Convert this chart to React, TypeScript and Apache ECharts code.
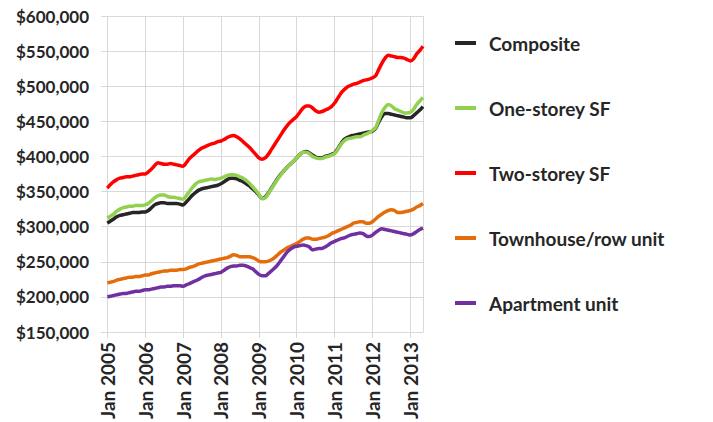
import React, { useEffect, useRef } from "react";
import * as echarts from "echarts";

// Monthly values in thousands of dollars, Jan 2005 .. May 2013
const composite = [
  305, 308, 311, 314, 316, 317, 318, 319, 320, 320, 320, 321,
  321, 323, 327, 331, 333, 334, 334, 333, 333, 333, 333, 332,
  331, 335, 340, 345, 349, 352, 354, 355, 356, 357, 358, 359,
  361, 364, 367, 369, 369, 368, 366, 364, 361, 358, 354, 350,
  345, 340, 342, 348, 355, 362, 369, 375, 380, 385, 389, 393,
  398, 403, 406, 407, 405, 402, 399, 398, 398, 400, 401, 403,
  405, 411, 418, 424, 427, 429, 430, 431, 432, 433, 434, 435,
  436, 440, 449, 457, 461, 461, 460, 459, 458, 457, 456, 455,
  455, 458, 462, 466, 471,
];
const oneStorey = [
  312, 315, 318, 322, 325, 327, 328, 329, 329, 330, 330, 330,
  331, 333, 337, 341, 344, 345, 345, 343, 342, 342, 341, 340,
  339, 344, 350, 356, 361, 364, 365, 366, 367, 368, 367, 368,
  369, 371, 373, 374, 374, 373, 371, 369, 366, 362, 357, 352,
  346, 340, 341, 347, 354, 361, 368, 374, 380, 385, 389, 393,
  398, 403, 406, 406, 404, 400, 398, 397, 397, 399, 400, 402,
  404, 410, 417, 422, 425, 426, 427, 428, 428, 430, 432, 434,
  437, 441, 452, 463, 470, 474, 472, 468, 466, 464, 462, 462,
  463, 467, 474, 479, 484,
];
const twoStorey = [
  355, 360, 364, 367, 369, 370, 371, 371, 372, 373, 374, 375,
  375, 378, 382, 387, 391, 390, 389, 389, 390, 389, 388, 387,
  386, 391, 397, 401, 405, 409, 412, 414, 416, 418, 419, 421,
  422, 424, 427, 429, 430, 428, 425, 421, 417, 413, 408, 403,
  398, 396, 398, 403, 410, 417, 424, 431, 438, 444, 449, 453,
  457, 463, 469, 472, 472, 469, 465, 463, 464, 466, 468, 471,
  476, 483, 490, 495, 499, 501, 503, 504, 506, 508, 509, 510,
  512, 515, 524, 533, 540, 544, 543, 542, 541, 541, 540, 538,
  536, 539, 546, 551, 557,
];
const townhouse = [
  220, 221, 222, 224, 225, 226, 227, 228, 228, 229, 229, 230,
  231, 231, 233, 234, 235, 236, 237, 237, 238, 238, 238, 239,
  239, 240, 242, 243, 245, 247, 248, 249, 250, 251, 252, 253,
  254, 255, 256, 258, 260, 259, 257, 257, 257, 257, 256, 254,
  251, 250, 250, 251, 253, 256, 260, 264, 267, 270, 272, 274,
  276, 279, 282, 284, 284, 282, 282, 283, 284, 285, 287, 290,
  292, 294, 296, 298, 300, 302, 305, 306, 307, 307, 305, 305,
  307, 311, 315, 318, 321, 323, 324, 323, 320, 320, 321, 322,
  323, 325, 328, 330, 333,
];
const apartment = [
  200, 201, 202, 203, 204, 205, 205, 206, 207, 208, 208, 209,
  210, 210, 211, 212, 213, 214, 214, 215, 215, 216, 216, 216,
  215, 217, 219, 221, 223, 225, 228, 230, 231, 232, 233, 234,
  235, 238, 241, 243, 244, 244, 245, 245, 244, 242, 240, 236,
  232, 230, 230, 233, 237, 241, 246, 252, 258, 264, 268, 271,
  272, 273, 274, 273, 271, 267, 268, 269, 269, 271, 274, 277,
  279, 281, 283, 284, 286, 288, 289, 290, 291, 290, 287, 286,
  288, 292, 295, 297, 296, 295, 294, 293, 292, 291, 290, 289,
  288, 290, 293, 296, 298,
];

const seriesNames = ["Composite", "One-storey SF", "Two-storey SF", "Townhouse/row unit", "Apartment unit"];
const seriesColors = ["#262626", "#92D050", "#FF0000", "#E46C0A", "#7030A0"];
const seriesValues = [composite, oneStorey, twoStorey, townhouse, apartment];

const monthNames = ["Jan", "Feb", "Mar", "Apr", "May", "Jun", "Jul", "Aug", "Sep", "Oct", "Nov", "Dec"];
// Axis starts two months before the first data point (Nov 2004)
const padLabels = ["Nov 2004", "Dec 2004"];
const categories: string[] = [...padLabels];
for (let i = 0; i < composite.length; i++) {
  categories.push(`${monthNames[i % 12]} ${2005 + Math.floor(i / 12)}`);
}

const FONT = "Lato, 'Open Sans', sans-serif";
const TEXT = "#262626";
const GRID = "#D9D9D9";

export default function App() {
  const ref = useRef<HTMLDivElement>(null);
  useEffect(() => {
    if (!ref.current) return;
    const chart = echarts.init(ref.current, undefined, { renderer: "svg" });
    const isJan = (_i: number, v: string) => v.startsWith("Jan");
    chart.setOption({
      animation: false,
      backgroundColor: "#ffffff",
      textStyle: { fontFamily: FONT },
      grid: { left: 101, right: 290, top: 16, bottom: 90, containLabel: false },
      legend: {
        orient: "vertical",
        left: 450,
        top: 27,
        itemGap: 43,
        itemWidth: 21,
        itemHeight: 4,
        icon: "rect",
        data: seriesNames,
        textStyle: {
          color: TEXT,
          fontSize: 19,
          fontWeight: "bold",
          fontFamily: FONT,
          lineHeight: 22,
          padding: [0, 0, 0, 8],
        },
      },
      xAxis: {
        type: "category",
        boundaryGap: false,
        data: categories,
        axisLine: { show: true, lineStyle: { color: GRID, width: 1 } },
        axisTick: { show: true, interval: isJan, length: 6, lineStyle: { color: GRID } },
        axisLabel: {
          interval: isJan,
          rotate: 90,
          margin: 10,
          color: TEXT,
          fontSize: 19,
          fontWeight: "bold",
          fontFamily: FONT,
        },
        splitLine: {
          show: true,
          interval: (i: number, v: string) => v.startsWith("Jan") || i === categories.length - 1,
          lineStyle: { color: GRID, width: 1 },
        },
      },
      yAxis: {
        type: "value",
        min: 150,
        max: 600,
        interval: 50,
        axisLine: { show: false },
        axisTick: { show: false },
        axisLabel: {
          margin: 12,
          color: TEXT,
          fontSize: 17,
          fontWeight: "bold",
          fontFamily: FONT,
          formatter: (v: number) => `$${v},000`,
        },
        splitLine: { show: true, lineStyle: { color: GRID, width: 1 } },
      },
      series: seriesNames.map((name, k) => ({
        name,
        type: "line",
        data: [...padLabels.map(() => null), ...seriesValues[k]],
        showSymbol: false,
        symbol: "none",
        smooth: 0.3,
        connectNulls: false,
        lineStyle: { color: seriesColors[k], width: 3.5 },
        itemStyle: { color: seriesColors[k] },
      })),
    });
    return () => chart.dispose();
  }, []);
  return (
    <div
      ref={ref}
      style={{ position: "fixed", left: 0, top: 0, width: 713, height: 422 }}
    />
  );
}
